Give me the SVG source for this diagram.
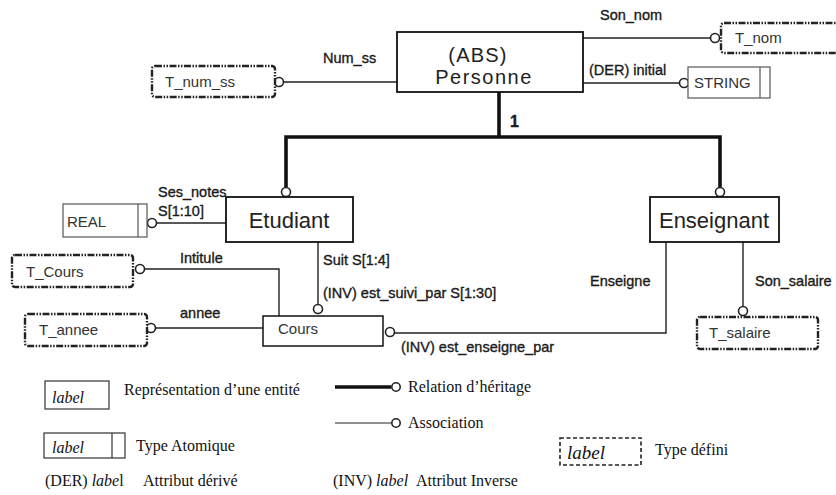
<svg xmlns="http://www.w3.org/2000/svg" width="836" height="495" viewBox="0 0 836 495">
<style>
.ent{fill:#fff;stroke:#111;stroke-width:1.8}
.atom{fill:#fff;stroke:#555;stroke-width:1.2}
.def{fill:#fff;stroke:#222;stroke-width:2.4;stroke-dasharray:7 1.5 1.5 1.5 1.5 1.5}
.assoc{fill:none;stroke:#222;stroke-width:1.4}
.inh{fill:none;stroke:#111;stroke-width:3.6}
.circ{fill:#fff;stroke:#222;stroke-width:1.6}
.lbl{font-family:"Liberation Sans",Arial,sans-serif;font-size:14.5px;fill:#1a1a1a;stroke:#1a1a1a;stroke-width:0.35}
.box{font-family:"Liberation Sans",Arial,sans-serif;font-size:15px;fill:#333}
.big{font-family:"Liberation Sans",Arial,sans-serif;font-size:22px;fill:#222}
.leg{font-family:"Liberation Serif","Times New Roman",serif;font-size:16px;fill:#111}
.it{font-style:italic}
</style>

<g id="connectors">
  <polyline class="inh" points="499,92 499,137"/>
  <polyline class="inh" points="286,187 286,137 720,137 720,187"/>
  <circle class="circ" cx="286" cy="192" r="4.5"/>
  <circle class="circ" cx="720" cy="192" r="4.5"/>
  <line class="assoc" x1="284" y1="82" x2="397" y2="82"/>
  <circle class="circ" cx="279" cy="82" r="4.5"/>
  <line class="assoc" x1="583" y1="38" x2="710" y2="38"/>
  <circle class="circ" cx="715" cy="38" r="4.5"/>
  <line class="assoc" x1="583" y1="83" x2="679" y2="83"/>
  <circle class="circ" cx="684" cy="83" r="4.5"/>
  <line class="assoc" x1="157" y1="223" x2="226" y2="223"/>
  <circle class="circ" cx="152" cy="223" r="4.5"/>
  <polyline class="assoc" points="145,269 279,269 279,316"/>
  <circle class="circ" cx="140" cy="269" r="4.5"/>
  <line class="assoc" x1="156" y1="328" x2="263" y2="328"/>
  <circle class="circ" cx="151" cy="328" r="4.5"/>
  <line class="assoc" x1="318" y1="242" x2="318" y2="304"/>
  <circle class="circ" cx="318" cy="309" r="4.5"/>
  <polyline class="assoc" points="666,242 666,333 395,333"/>
  <circle class="circ" cx="390" cy="332" r="4.5"/>
  <line class="assoc" x1="743" y1="242" x2="743" y2="306"/>
  <circle class="circ" cx="743" cy="311" r="4.5"/>
</g>

<g id="personne">
  <rect class="ent" x="397" y="32" width="186" height="60"/>
  <text class="big" x="478" y="62" text-anchor="middle" letter-spacing="1.2" style="font-size:20px">(ABS)</text>
  <text class="big" x="484" y="84" text-anchor="middle" letter-spacing="1.5" style="font-size:20px">Personne</text>
</g>
<text class="lbl" x="510" y="127" style="font-weight:bold;font-size:16px">1</text>

<g id="etudiant">
  <rect class="ent" x="226" y="197" width="127" height="45"/>
  <text class="big" x="289" y="228" text-anchor="middle">Etudiant</text>
</g>
<g id="enseignant">
  <rect class="ent" x="650" y="197" width="129" height="45"/>
  <text class="big" x="714" y="228" text-anchor="middle">Enseignant</text>
</g>
<g id="cours">
  <rect class="ent" x="263" y="316" width="120" height="30" style="stroke-width:1.5"/>
  <text class="box" x="278" y="334">Cours</text>
</g>

<g id="t_num_ss">
  <rect class="def" x="152" y="66" width="123" height="31" rx="3"/>
  <text class="box" x="165" y="87">T_num_ss</text>
</g>
<g id="t_nom">
  <rect class="def" x="721" y="23" width="125" height="30" rx="3"/>
  <text class="box" x="735" y="43">T_nom</text>
</g>
<g id="string">
  <rect class="atom" x="688" y="67" width="82" height="31"/>
  <line class="atom" x1="760" y1="67" x2="760" y2="98"/>
  <text class="box" x="694" y="88">STRING</text>
</g>
<g id="real">
  <rect class="atom" x="63" y="204" width="84" height="33"/>
  <line class="atom" x1="138" y1="204" x2="138" y2="237"/>
  <text class="box" x="67" y="227">REAL</text>
</g>
<g id="t_cours">
  <rect class="def" x="12" y="255" width="121" height="32" rx="3"/>
  <text class="box" x="26" y="277">T_Cours</text>
</g>
<g id="t_annee">
  <rect class="def" x="25" y="314" width="122" height="32" rx="3"/>
  <text class="box" x="39" y="335">T_annee</text>
</g>
<g id="t_salaire">
  <rect class="def" x="697" y="317" width="121" height="32" rx="3"/>
  <text class="box" x="709" y="338">T_salaire</text>
</g>

<g id="labels">
  <text class="lbl" x="323" y="63">Num_ss</text>
  <text class="lbl" x="600" y="20">Son_nom</text>
  <text class="lbl" x="589" y="75">(DER) initial</text>
  <text class="lbl" x="158" y="197">Ses_notes</text>
  <text class="lbl" x="158" y="216">S[1:10]</text>
  <text class="lbl" x="180" y="263">Intitule</text>
  <text class="lbl" x="180" y="318">annee</text>
  <text class="lbl" x="323" y="265">Suit S[1:4]</text>
  <text class="lbl" x="323" y="298">(INV) est_suivi_par S[1:30]</text>
  <text class="lbl" x="590" y="286">Enseigne</text>
  <text class="lbl" x="755" y="286">Son_salaire</text>
  <text class="lbl" x="401" y="352">(INV) est_enseigne_par</text>
</g>

<g id="legend">
  <rect x="45" y="381" width="64" height="28" fill="#fff" stroke="#333" stroke-width="1.2"/>
  <text class="leg it" x="52" y="403">label</text>
  <text class="leg" x="124" y="395">Représentation d’une entité</text>

  <rect x="44" y="433" width="81" height="25" fill="#fff" stroke="#333" stroke-width="1.2"/>
  <line x1="112" y1="433" x2="112" y2="458" stroke="#333" stroke-width="1.2"/>
  <text class="leg it" x="52" y="453">label</text>
  <text class="leg" x="136" y="451">Type Atomique</text>

  <text class="leg" x="45" y="486">(DER) <tspan class="it">labe</tspan>l</text>
  <text class="leg" x="143" y="486">Attribut dérivé</text>

  <line x1="335" y1="387" x2="391" y2="387" stroke="#111" stroke-width="3.6"/>
  <circle class="circ" cx="396" cy="387" r="4.2"/>
  <text class="leg" x="408" y="392">Relation d’héritage</text>

  <line x1="335" y1="423" x2="391" y2="423" stroke="#222" stroke-width="1.2"/>
  <circle class="circ" cx="396" cy="423" r="4.2"/>
  <text class="leg" x="408" y="428">Association</text>

  <rect x="560" y="438" width="81" height="27" fill="#fff" stroke="#222" stroke-width="1.6" stroke-dasharray="4 2.5"/>
  <text class="leg it" x="567" y="459" style="font-size:19px">label</text>
  <text class="leg" x="655" y="455">Type défini</text>

  <text class="leg" x="333" y="486">(INV) <tspan class="it">label</tspan></text>
  <text class="leg" x="416" y="486">Attribut Inverse</text>
</g>
</svg>
